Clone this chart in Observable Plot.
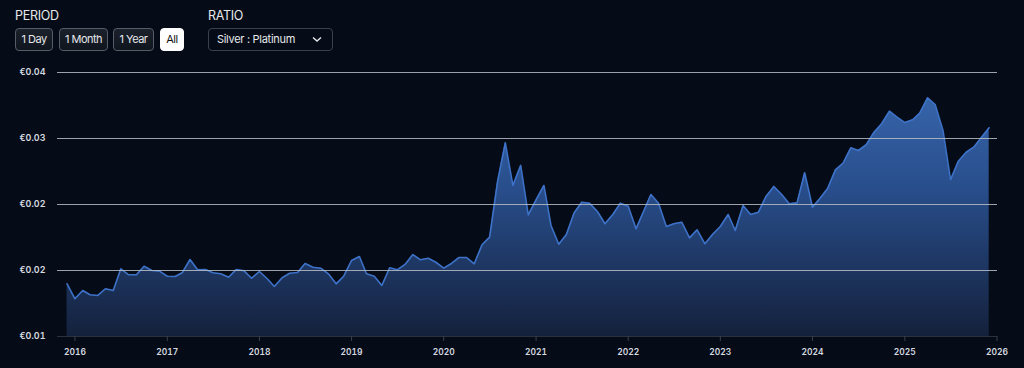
<!DOCTYPE html>
<html>
<head>
<meta charset="utf-8">
<script src="https://cdn.jsdelivr.net/npm/d3@7"></script>
<script src="https://cdn.jsdelivr.net/npm/@observablehq/plot@0.6"></script>
<style>
  html, body { margin: 0; padding: 0; background: #060c17; }
  body { width: 1024px; height: 368px; overflow: hidden; position: relative; font-family: Inter, "Noto Sans", sans-serif; color: #e3e6ea; }
  .lbl { position: absolute; top: 8px; font-size: 12.5px; letter-spacing: -0.3px; color: #e6e8ec; }
  .btn { position: absolute; top: 28px; height: 21px; border: 1px solid #565d68; border-radius: 4px; background: linear-gradient(#1b212b, #10151e); font-size: 11px; letter-spacing: -0.5px; line-height: 21px; text-align: center; color: #e6e8ec; box-sizing: content-box; }
  .btn.on { background: #ffffff; color: #111; border-color: #ffffff; }
  .sel { position: absolute; top: 28px; left: 208px; width: 123px; height: 21px; border: 1px solid #3a414c; border-radius: 4px; font-size: 11px; letter-spacing: -0.3px; line-height: 21px; color: #e6e8ec; }
  .sel span { position: absolute; left: 8px; }
  .sel svg { position: absolute; right: 10px; top: 7px; }
  #chart { position: absolute; left: 0; top: 60px; }
</style>
</head>
<body>
<div class="lbl" style="left:15px">PERIOD</div>
<div class="btn" style="left:15px;width:36px">1 Day</div>
<div class="btn" style="left:59px;width:47px">1 Month</div>
<div class="btn" style="left:113px;width:39px">1 Year</div>
<div class="btn on" style="left:160px;width:22px">All</div>
<div class="lbl" style="left:208px">RATIO</div>
<div class="sel"><span>Silver : Platinum</span><svg width="10" height="7" viewBox="0 0 10 7"><path d="M1 1.5 L5 5 L9 1.5" fill="none" stroke="#e6e8ec" stroke-width="1.4"/></svg></div>
<div id="chart"></div>
<script>
// Monthly observations, first one is December 2015
const startMonth = "2015-12-01";
const ratioValues = [
  0.01679, 0.01543, 0.01618, 0.01579, 0.01573, 0.01634, 0.01618, 0.01815, 0.01761, 0.01761, 0.01839, 0.01800,
  0.01794, 0.01748, 0.01745, 0.01779, 0.01900, 0.01806, 0.01809, 0.01779, 0.01770, 0.01739, 0.01809, 0.01797,
  0.01730, 0.01791, 0.01725, 0.01655, 0.01734, 0.01775, 0.01782, 0.01864, 0.01830, 0.01821, 0.01770, 0.01679,
  0.01748, 0.01891, 0.01927, 0.01770, 0.01748, 0.01664, 0.01825, 0.01806, 0.01855, 0.01945, 0.01897, 0.01912,
  0.01875, 0.01821, 0.01864, 0.01918, 0.01918, 0.01861, 0.02034, 0.02103, 0.02603, 0.02961, 0.02573, 0.02755,
  0.02306, 0.02443, 0.02573, 0.02209, 0.02039, 0.02127, 0.02325, 0.02421, 0.02412, 0.02336, 0.02225, 0.02309,
  0.02412, 0.02385, 0.02179, 0.02327, 0.02491, 0.02412, 0.02200, 0.02225, 0.02239, 0.02097, 0.02170, 0.02043,
  0.02127, 0.02200, 0.02309, 0.02164, 0.02391, 0.02309, 0.02330, 0.02473, 0.02564, 0.02491, 0.02406, 0.02415,
  0.02689, 0.02375, 0.02459, 0.02545, 0.02715, 0.02775, 0.02915, 0.02891, 0.02943, 0.03057, 0.03134, 0.03248,
  0.03194, 0.03145, 0.03170, 0.03230, 0.03370, 0.03309, 0.03073, 0.02625, 0.02794, 0.02875, 0.02921, 0.03012,
  0.03097
];
const yTicks = [0.012, 0.018, 0.024, 0.030, 0.036];
const gridTicks = [0.018, 0.024, 0.030, 0.036];
const yearTicks = ["2016","2017","2018","2019","2020","2021","2022","2023","2024","2025","2026"];

const start = new Date(startMonth + "T00:00:00Z");
const data = ratioValues.map((v, i) => ({ date: d3.utcMonth.offset(start, i), value: v }));
const yearDates = yearTicks.map(y => new Date(y + "-01-01T00:00:00Z"));

const gradient = () => {
  const defs = d3.create("svg:defs");
  const g = defs.append("linearGradient").attr("id", "areaGrad")
    .attr("gradientUnits", "userSpaceOnUse").attr("x1", 0).attr("x2", 0).attr("y1", 12).attr("y2", 276);
  g.append("stop").attr("offset", "0%").attr("stop-color", "#3a6ab2");
  g.append("stop").attr("offset", "45%").attr("stop-color", "#284d8a");
  g.append("stop").attr("offset", "100%").attr("stop-color", "#14213c");
  return defs.node();
};

const chart = Plot.plot({
  width: 1024,
  height: 308,
  marginTop: 12,
  marginBottom: 32,
  marginLeft: 57,
  marginRight: 27,
  style: { background: "transparent", color: "#d6dae1", fontFamily: "Inter, 'Noto Sans', sans-serif" },
  x: { type: "utc", domain: [new Date("2015-10-24T00:00:00Z"), new Date("2026-01-03T00:00:00Z")] },
  y: { domain: [0.012, 0.036] },
  marks: [
    gradient,
    Plot.areaY(data, { x: "date", y1: 0.012, y2: "value", fill: "url(#areaGrad)" }),
    Plot.lineY(data, { x: "date", y: "value", stroke: "#3d72c8", strokeWidth: 1.6 }),
    Plot.ruleY(gridTicks, { stroke: "#b9bec6", strokeWidth: 1.2, strokeOpacity: 0.85 }),
    Plot.ruleY([0.012], { stroke: "#2c323c", strokeWidth: 1.2 }),
    Plot.axisY({ ticks: yTicks, tickSize: 0, tickPadding: 12, tickFormat: d => "€" + d.toFixed(2), fontSize: 9, fontWeight: 600, label: null }),
    Plot.axisX({ ticks: yearDates, tickFormat: d3.utcFormat("%Y"), tickSize: 5, tickPadding: 7, fontSize: 8.5, fontWeight: 600, stroke: "#3a414b", label: null })
  ]
});
document.getElementById("chart").appendChild(chart);
</script>
</body>
</html>
